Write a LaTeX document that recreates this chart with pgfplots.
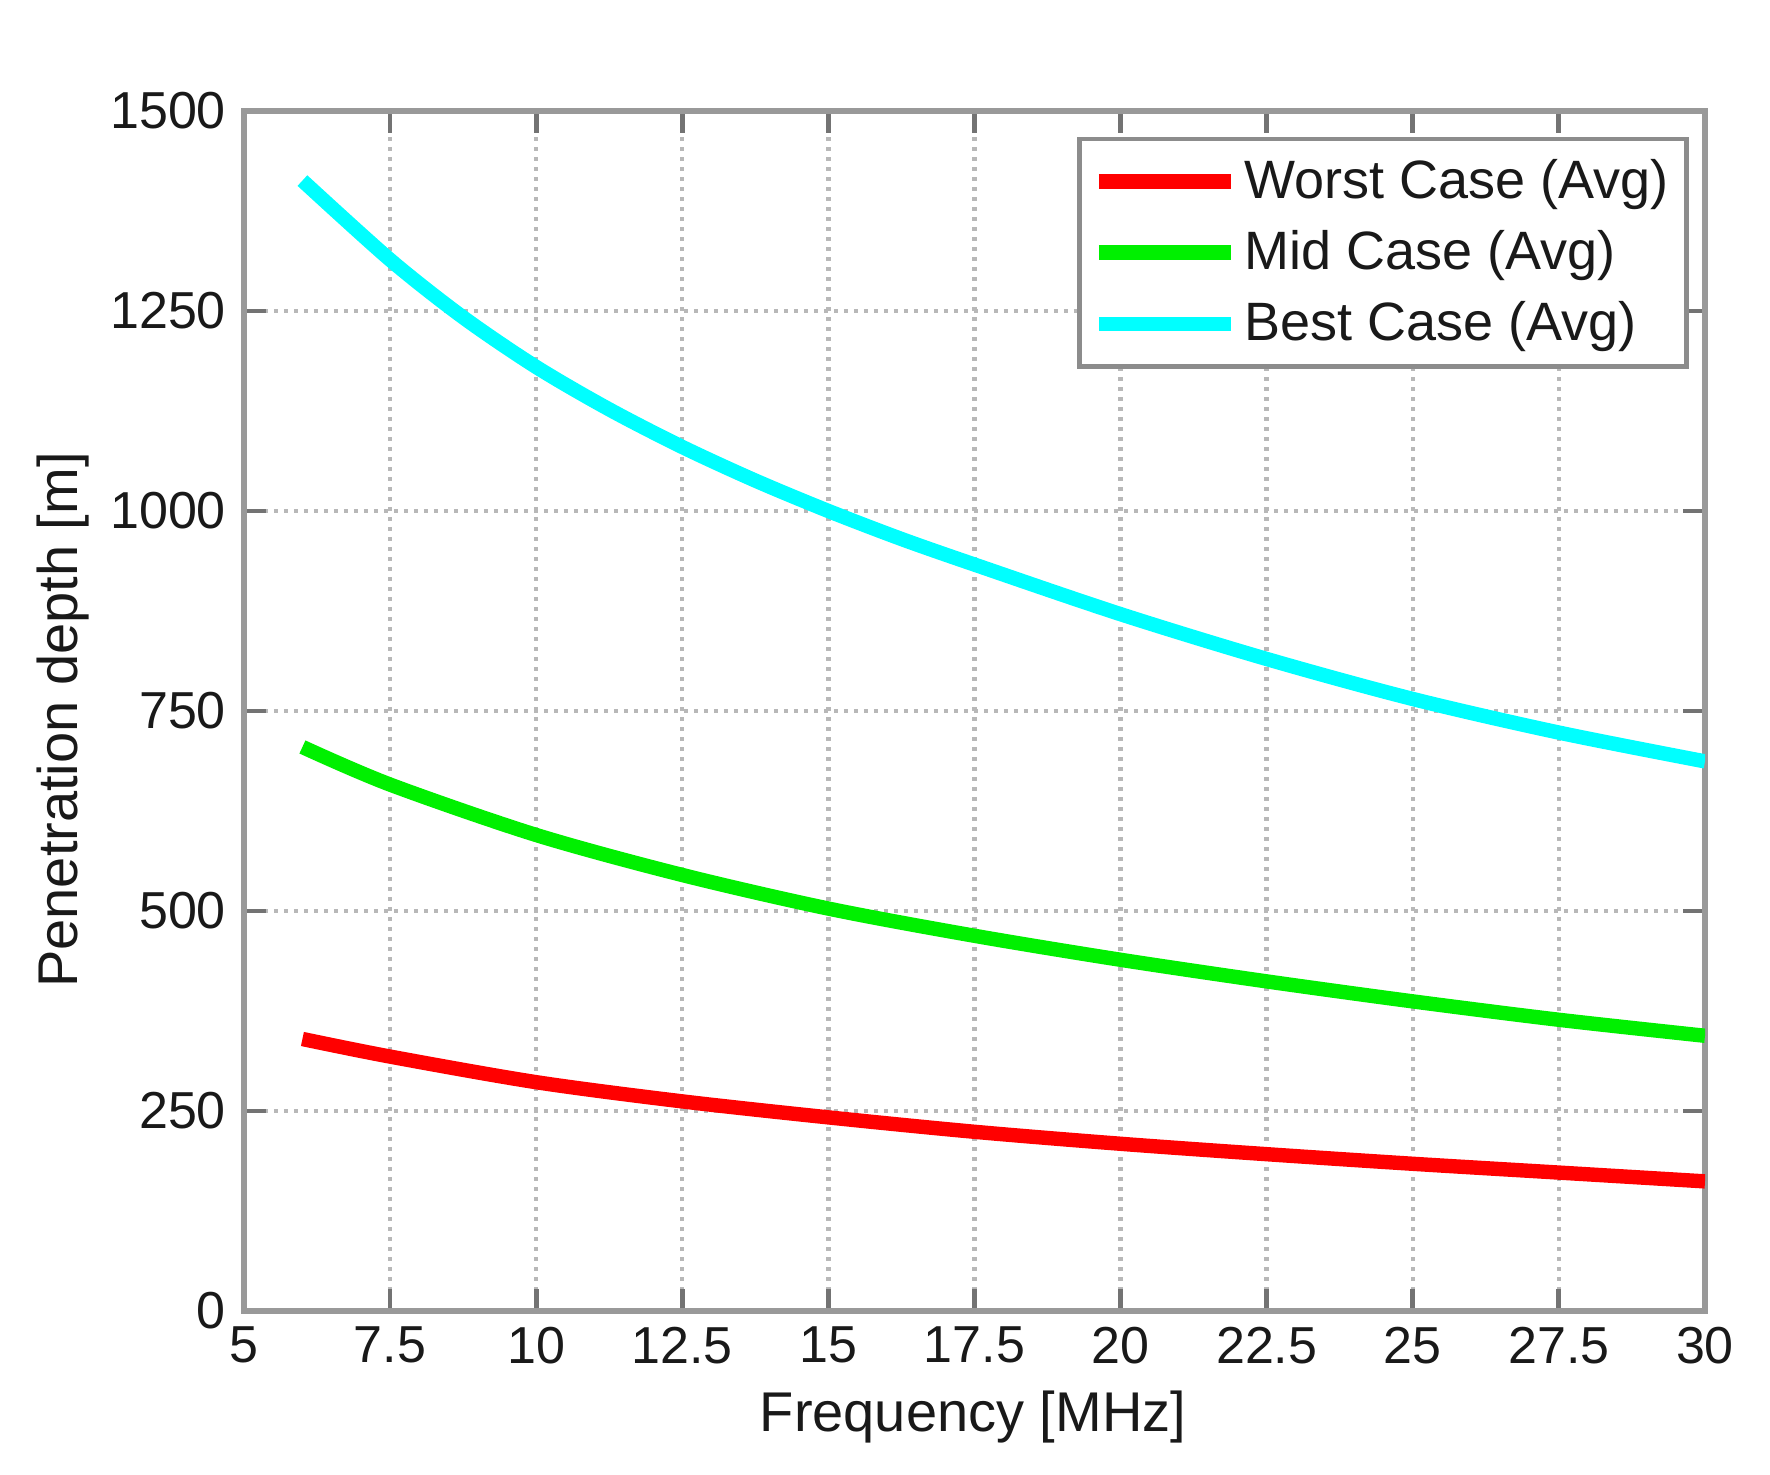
\documentclass[border=0pt]{standalone}
\usepackage{pgfplots}
\pgfplotsset{compat=1.18}
\usepackage{fontspec}
\setmainfont{Liberation Sans}
\definecolor{mred}{RGB}{255,0,0}
\definecolor{mgreen}{RGB}{0,240,0}
\definecolor{mcyan}{RGB}{0,255,255}
\begin{document}
\begin{tikzpicture}
\useasboundingbox (-61pt,-41pt) rectangle (381.5pt,327.75pt);
\begin{axis}[
  at={(0,0)}, anchor=south west,
  scale only axis, width=365.25pt, height=300pt,
  xmin=5, xmax=30, ymin=0, ymax=1500,
  xtick={5,7.5,10,12.5,15,17.5,20,22.5,25,27.5,30},
  ytick={0,250,500,750,1000,1250,1500},
  /pgf/number format/1000 sep={},
  /pgf/number format/assume math mode=true,
  tick label style={font=\fontsize{13}{15}\selectfont, black!90},
  xticklabel style={yshift=-0.5pt},
  yticklabel style={xshift=-1pt},
  tick align=inside, xtick pos=both, ytick pos=both,
  major tick length=5.5pt,
  major tick style={black!55, line width=1.2pt},
  axis line style={black!40, line width=1.3pt},
  grid=major,
  major grid style={black!28, line width=1.1pt, dash pattern=on 1.1pt off 1.4pt},
  xlabel={Frequency [MHz]},
  ylabel={Penetration depth [m]},
  every axis x label/.style={at={(axis description cs:0.499,-0.088)}, anchor=center,
    font=\fontsize{14}{16}\selectfont, text=black!90},
  every axis y label/.style={at={(axis description cs:-0.1239,0.4925)}, rotate=90, anchor=center,
    font=\fontsize{14}{16}\selectfont, text=black!90},
  legend style={at={(axis cs:29.72,1468)}, anchor=north east,
    draw=black!45, line width=1.2pt, fill=white,
    font=\fontsize{13.5}{15}\selectfont,
    inner xsep=3pt, inner ysep=3.5pt, row sep=3.5pt,
    nodes={inner sep=1.5pt, text=black!90}},
  legend cell align=left,
  legend image code/.code={\draw[#1, line width=3.6pt] (0pt,0pt) -- (33pt,0pt);},
]
\addplot[mred, line width=3.6pt, smooth] coordinates {
(6,340) (7.5,318) (10,286) (12.5,262) (15,242) (17.5,224) (20,209) (22.5,196) (25,184) (27.5,173) (30,162)};
\addlegendentry{Worst Case (Avg)}
\addplot[mgreen, line width=3.6pt, smooth] coordinates {
(6,705) (7.5,658) (10,595) (12.5,545) (15,503) (17.5,469) (20,439) (22.5,412) (25,387) (27.5,364) (30,344)};
\addlegendentry{Mid Case (Avg)}
\addplot[mcyan, line width=3.6pt, smooth] coordinates {
(6,1413) (7.5,1314) (8.75,1242) (10,1180) (11.25,1127) (12.5,1080) (13.75,1038) (15,1000) (16.25,965) (17.5,933) (20,871) (22.5,815) (25,765) (27.5,723) (30,687)};
\addlegendentry{Best Case (Avg)}
\end{axis}
\end{tikzpicture}
\end{document}
